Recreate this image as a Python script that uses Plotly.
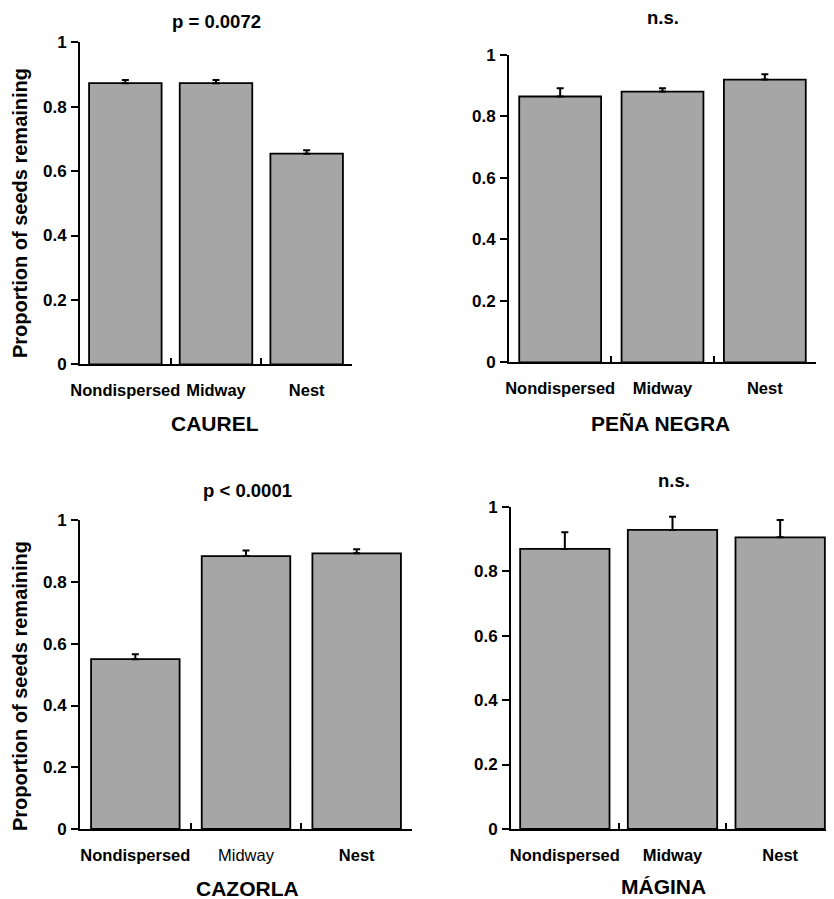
import plotly.graph_objects as go

# ---- data ----
categories = ["Nondispersed", "Midway", "Nest"]

caurel_vals = [0.873, 0.873, 0.654]
caurel_err = [0.010, 0.010, 0.011]

pena_vals = [0.865, 0.881, 0.920]
pena_err = [0.027, 0.011, 0.017]

cazorla_vals = [0.550, 0.884, 0.893]
cazorla_err = [0.016, 0.018, 0.013]

magina_vals = [0.869, 0.928, 0.905]
magina_err = [0.052, 0.041, 0.054]

panel_names = ["CAUREL", "PEÑA NEGRA", "CAZORLA", "MÁGINA"]
panel_stats = ["p = 0.0072", "n.s.", "p < 0.0001", "n.s."]
y_tick_vals = [0, 0.2, 0.4, 0.6, 0.8, 1]
y_tick_text = ["0", "0.2", "0.4", "0.6", "0.8", "1"]
y_title = "Proportion of seeds remaining"

# ---- layout helpers ----
# the page body has an 8px margin, so the figure starts at (8, 8) of the window
OFF = 8
W, H = 834 - OFF, 899 - OFF
FONT = "Liberation Sans, Arial, Helvetica, sans-serif"


def px(x):
    return (x - OFF) / W


def py(y):
    return 1 - (y - OFF) / H


# pixel boxes in window coordinates: (left, right, top, bottom)
boxes = [
    (80, 352, 42.3, 364.3),
    (509, 816, 55, 362.3),
    (80, 412, 520.3, 829),
    (511, 834, 506.7, 829),
]
bar_widths = [0.8, 0.8, 0.8, 0.83]
values = [caurel_vals, pena_vals, cazorla_vals, magina_vals]
errors = [caurel_err, pena_err, cazorla_err, magina_err]
bold_flags = [
    [True, True, True],
    [True, True, True],
    [True, False, True],
    [True, True, True],
]

fig = go.Figure()

for i in range(4):
    n = "" if i == 0 else str(i + 1)
    fig.add_trace(go.Bar(
        x=categories, y=values[i],
        width=bar_widths[i],
        marker=dict(color="#A6A6A6", line=dict(color="black", width=1.8)),
        error_y=dict(type="data", symmetric=False, array=errors[i],
                     arrayminus=[0] * len(errors[i]),
                     color="black", thickness=2, width=3.5),
        xaxis="x" + n, yaxis="y" + n, showlegend=False,
    ))
    l, r, t, b = boxes[i]
    ticktext = [("<b>%s</b>" % c) if bf else c for c, bf in zip(categories, bold_flags[i])]
    fig.layout["xaxis" + n] = dict(
        domain=[max(px(l), 0.0), min(px(r), 1.0)], anchor="y" + n,
        range=[-0.5, 2.5], type="category",
        tickmode="array", tickvals=categories, ticktext=ticktext,
        tickangle=0, automargin=False,
        showline=True, linecolor="black", linewidth=1.8,
        ticks="inside", tickson="boundaries", ticklen=6, tickwidth=1.8, tickcolor="black",
        tickfont=dict(family=FONT, size=16.5, color="black"),
        ticklabelstandoff=10,
        showgrid=False, zeroline=False, fixedrange=True,
    )
    fig.layout["yaxis" + n] = dict(
        domain=[py(b), py(t)], anchor="x" + n,
        range=[0, 1], automargin=False,
        tickmode="array", tickvals=y_tick_vals, ticktext=y_tick_text,
        showline=True, linecolor="black", linewidth=1.8,
        ticks="outside", ticklen=7, tickwidth=1.8, tickcolor="black",
        tickfont=dict(family=FONT, size=17, color="black", weight="bold"),
        ticklabelstandoff=1,
        showgrid=False, zeroline=False, fixedrange=True,
    )

annotations = []
stat_pos = [(216, 21), (663, 18), (247, 490), (674, 480)]
name_pos = [(215, 423), (660, 423), (248, 888), (663, 886)]
for i in range(4):
    annotations.append(dict(
        text="<b>%s</b>" % panel_stats[i], x=px(stat_pos[i][0]), y=py(stat_pos[i][1]),
        xref="paper", yref="paper", xanchor="center", yanchor="middle", showarrow=False,
        font=dict(family=FONT, size=18.5, color="black")))
    annotations.append(dict(
        text="<b>%s</b>" % panel_names[i], x=px(name_pos[i][0]), y=py(name_pos[i][1]),
        xref="paper", yref="paper", xanchor="center", yanchor="middle", showarrow=False,
        font=dict(family=FONT, size=21, color="black")))
for yc in (213, 686):
    annotations.append(dict(
        text="<b>%s</b>" % y_title, x=px(20), y=py(yc), textangle=-90,
        xref="paper", yref="paper", xanchor="center", yanchor="middle", showarrow=False,
        font=dict(family=FONT, size=20, color="black")))

fig.update_layout(
    width=W, height=H,
    margin=dict(l=0, r=0, t=0, b=0, autoexpand=False),
    paper_bgcolor="white", plot_bgcolor="white",
    annotations=annotations,
    bargap=0.2,
)

fig.write_html("out.html", config={"displayModeBar": False})
